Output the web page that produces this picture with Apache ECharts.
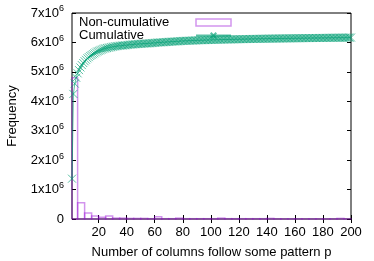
<!DOCTYPE html>
<html>
<head>
<meta charset="utf-8">
<script src="https://cdn.jsdelivr.net/npm/echarts@6/dist/echarts.min.js"></script>
<style>html,body{margin:0;padding:0;background:#fff}#c{width:374px;height:261px}</style>
</head>
<body>
<div id="c"></div>
<script>
// Cumulative frequency (in millions) for p = 1..200
const cumulativeM = [
1.37,4.25,4.60,4.80,4.95,5.06,5.15,5.23,5.30,5.36,
5.41,5.46,5.50,5.54,5.57,5.60,5.63,5.66,5.69,5.71,
5.73,5.75,5.77,5.79,5.80,5.81,5.82,5.83,5.84,5.85,
5.86,5.87,5.875,5.88,5.885,5.89,5.895,5.90,5.905,5.91,
5.915,5.92,5.925,5.93,5.935,5.94,5.943,5.946,5.949,5.952,
5.955,5.958,5.961,5.964,5.967,5.97,5.975,5.978,5.981,5.984,
5.99,5.995,5.998,6.001,6.004,6.007,6.01,6.013,6.016,6.019,
6.022,6.025,6.028,6.031,6.034,6.037,6.04,6.045,6.048,6.05,
6.052,6.054,6.056,6.058,6.06,6.062,6.064,6.066,6.068,6.07,
6.072,6.073,6.075,6.076,6.078,6.079,6.081,6.082,6.084,6.085,
6.087,6.088,6.09,6.091,6.092,6.094,6.095,6.096,6.098,6.099,
6.10,6.101,6.102,6.103,6.104,6.105,6.106,6.107,6.108,6.109,
6.11,6.111,6.112,6.113,6.114,6.115,6.116,6.117,6.118,6.119,
6.12,6.121,6.121,6.122,6.123,6.124,6.125,6.125,6.126,6.127,
6.128,6.129,6.129,6.13,6.131,6.132,6.132,6.133,6.134,6.135,
6.135,6.136,6.137,6.137,6.138,6.139,6.139,6.14,6.141,6.141,
6.142,6.143,6.143,6.144,6.145,6.145,6.146,6.147,6.147,6.148,
6.148,6.149,6.15,6.15,6.151,6.151,6.152,6.153,6.153,6.154,
6.154,6.155,6.155,6.156,6.157,6.157,6.158,6.158,6.159,6.159,
6.16,6.16,6.161,6.161,6.162,6.162,6.163,6.164,6.164,6.165
];
// Histogram bins (start of bin), width 5, values in millions
const binStarts = [0,5,10,15,20,25,30,35,40,45,50,55,60,65,70,75,80,85,90,95,100,105,110,115,120,125,130,135,140,145,150,155,160,165,170,175,180,185,190,195];
const binValuesM = [4.80,0.55,0.20,0.10,0.06,0.10,0.03,0.03,0.02,0.02,0.02,0.01,0.08,0.01,0.01,0.03,0.01,0.01,0.01,0.01,0.01,0.03,0.01,0.01,0.01,0.01,0.01,0.01,0.02,0.005,0.005,0.005,0.005,0.005,0.005,0.005,0.005,0.005,0.02,0.005];
const binWidth = 5;
const xTicks = [20,40,60,80,100,120,140,160,180,200];
const seriesNames = ['Non-cumulative','Cumulative'];

const FONT = 'Liberation Sans';
const cumData = cumulativeM.map((v,i)=>[i+1, v*1e6]);
const histData = binStarts.map((s,i)=>[s, s+binWidth, binValuesM[i]*1e6]);

const purple = 'rgba(148,0,211,0.42)';
const green = 'rgba(0,158,115,0.65)';

const chart = echarts.init(document.getElementById('c'), null, {renderer:'canvas'});
const tickCommon = {show:true, inside:true, length:4, lineStyle:{color:'#000', width:1}};
chart.setOption({
  animation:false,
  backgroundColor:'#fff',
  textStyle:{fontFamily:FONT},
  grid:{left:72, right:23, top:13, bottom:42, outerBoundsMode:'none', containLabel:false,
        show:true, borderColor:'#000', borderWidth:1, backgroundColor:'transparent'},
  legend:{
    orient:'vertical', left:79, top:16, align:'right', padding:0, itemGap:0,
    itemWidth:35, itemHeight:7,
    formatter:function(n){ return '{t|'+n+'}'; },
    textStyle:{fontSize:13, fontFamily:FONT, color:'#000', lineHeight:13,
      rich:{t:{fontSize:13, fontFamily:FONT, color:'#000', width:112, align:'left', lineHeight:13}}},
    data:[
      {name:seriesNames[0], icon:'rect', itemStyle:{color:'transparent', borderColor:purple, borderWidth:1.5}},
      {name:seriesNames[1]}
    ]
  },
  xAxis:[{
    type:'value', min:1, max:200,
    name:'Number of columns follow some pattern p', nameLocation:'middle', nameGap:27,
    nameTextStyle:{fontSize:13, fontFamily:FONT, color:'#000'},
    axisLine:{show:false},
    axisTick:Object.assign({customValues:xTicks}, tickCommon),
    axisLabel:{customValues:xTicks, fontSize:13, fontFamily:FONT, color:'#000', margin:7},
    splitLine:{show:false}
  },{
    type:'value', min:1, max:200, position:'top',
    axisLine:{show:false},
    axisTick:Object.assign({customValues:xTicks}, tickCommon),
    axisLabel:{show:false}, splitLine:{show:false}
  }],
  yAxis:[{
    type:'value', min:0, max:7e6, interval:1e6,
    name:'Frequency', nameLocation:'middle', nameGap:53, nameRotate:90,
    nameTextStyle:{fontSize:13, fontFamily:FONT, color:'#000'},
    axisLine:{show:false},
    axisTick:tickCommon,
    axisLabel:{
      margin:8, color:'#000',
      formatter:function(v){ if(v===0) return '{b|0}'; return '{b|'+Math.round(v/1e6)+'x10}{s|6}'; },
      rich:{b:{fontSize:13, fontFamily:FONT, color:'#000'}, s:{fontSize:9, fontFamily:FONT, color:'#000', padding:[0,0,8,0]}}
    },
    splitLine:{show:false}
  },{
    type:'value', min:0, max:7e6, interval:1e6, position:'right',
    axisLine:{show:false}, axisTick:tickCommon, axisLabel:{show:false}, splitLine:{show:false}
  }],
  series:[{
    name:seriesNames[0], type:'custom', xAxisIndex:0, yAxisIndex:0,
    itemStyle:{color:purple, borderColor:purple},
    data:histData,
    renderItem:function(params, api){
      const p0 = api.coord([api.value(0), api.value(2)]);
      const p1 = api.coord([api.value(1), 0]);
      const cs = params.coordSys;
      const x0 = Math.max(p0[0], cs.x);
      const x1 = Math.min(p1[0], cs.x+cs.width);
      const y0 = Math.max(p0[1], cs.y);
      return {type:'rect', shape:{x:x0, y:y0, width:x1-x0, height:p1[1]-y0},
        style:{fill:'none', stroke:purple, lineWidth:1.5}};
    },
    z:2
  },{
    name:seriesNames[1], type:'line', xAxisIndex:0, yAxisIndex:0,
    data:cumData,
    symbol:'path://M0,0L10,10M10,0L0,10', symbolSize:8, showAllSymbol:true,
    itemStyle:{color:'transparent', borderColor:green, borderWidth:1},
    lineStyle:{color:green, width:1},
    z:3
  }]
});
</script>
</body>
</html>
